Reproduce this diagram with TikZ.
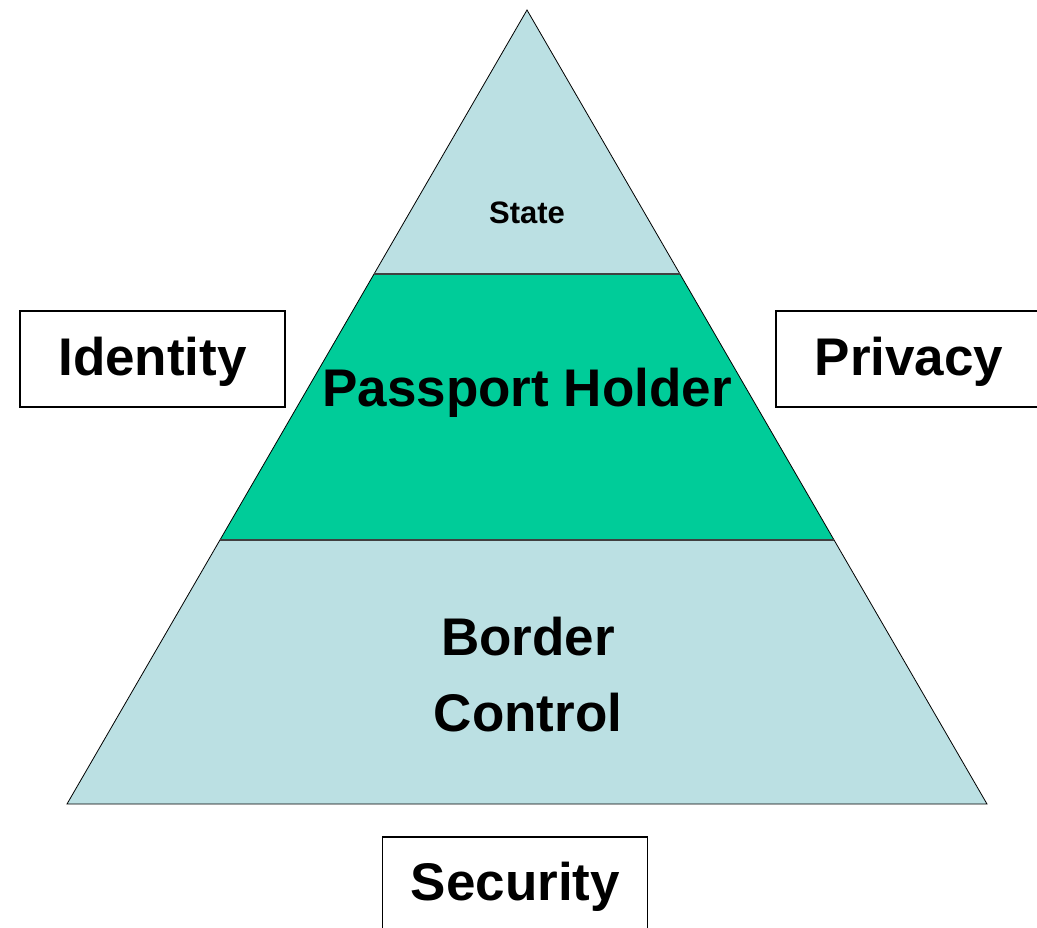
\documentclass[tikz,border=0pt]{standalone}
\usepackage{fontspec}
\setmainfont{Liberation Sans}
\usetikzlibrary{positioning}
\definecolor{layerblue}{RGB}{187,224,227}
\definecolor{layergreen}{RGB}{0,204,153}
\tikzset{layer/.style={draw=black,line width=0.8pt},
         divider/.style={draw=black!75,line width=2pt},
         word/.style={anchor=base,inner sep=0pt,font=\bfseries\fontsize{53}{75}\selectfont},
         small word/.style={anchor=base,inner sep=0pt,font=\bfseries\fontsize{31}{36}\selectfont},
         framebox/.style={draw,line width=1.5pt,minimum width=265pt,minimum height=96pt,inner sep=0pt},
        }
\begin{document}
\begin{tikzpicture}[x=1pt,y=-1pt]
        \useasboundingbox (0,0) rectangle (1037,928);
        \coordinate(apex)at(527,10);
        \coordinate(tl)at(374,274);
        \coordinate(tr)at(680,274);
        \coordinate(ml)at(220,540);
        \coordinate(mr)at(834,540);
        \coordinate(bl)at(67,804);
        \coordinate(br)at(987,804);

        \fill[layerblue](apex)--(tr)--(tl)--cycle;
        \fill[layergreen](tl)--(tr)--(mr)--(ml)--cycle;
        \fill[layerblue](ml)--(mr)--(br)--(bl)--cycle;
        \draw[layer](apex)--(br)--(bl)--cycle;
        \draw[divider](tl)--(tr);
        \draw[divider](ml)--(mr);

        \node[small word](state)at(527,224){State};
        \node[word](holder)at(527,406){Passport Holder};
        \node[word](border)at(528,655){Border};
        \node[word](control)at(528,731){Control};

        \node[framebox](identity)at(152.5,359){};
        \node[word](identitytext)at(152.5,375){Identity};
        \node[framebox](privacy)at(908.5,359){};
        \node[word](privacytext)at(909,375){Privacy};
        \node[framebox](security)at(515,885){};
        \node[word](securitytext)at(515.5,900){Security};
\end{tikzpicture}
\end{document}
